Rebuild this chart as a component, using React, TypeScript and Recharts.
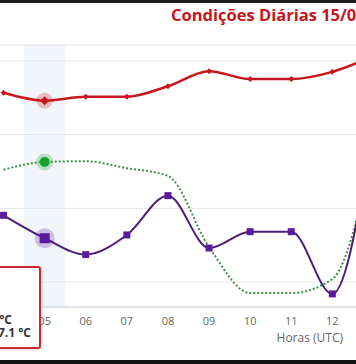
import React from 'react';
import { ComposedChart, Line, XAxis, YAxis, CartesianGrid, ReferenceArea } from 'recharts';

// Horas (UTC)
const hours = ['04', '05', '06', '07', '08', '09', '10', '11', '12', '13'];
// Temperatura (°C) - red
const temperatura = [12.7, 11.5, 12.1, 12.1, 13.7, 16.0, 14.8, 14.8, 15.9, 18.3];
// Humidade relativa (%) - green dotted
const humidade = [70.5, 72.6, 72.8, 70.9, 68.8, 49.5, 37.0, 37.0, 40.8, 76.0];
// Ponto de orvalho (°C) - purple
const orvalho = [7.8, 7.1, 6.6, 7.2, 8.4, 6.8, 7.3, 7.3, 5.4, 10.6];
const humidadeTicks = [40, 60, 80, 100];
const activeHour = '05';

const activeIndex = hours.indexOf(activeHour);
const data = hours.map((h, i) => ({
  hora: Number(h),
  temperatura: temperatura[i],
  humidade: humidade[i],
  orvalho: orvalho[i],
}));

const FONT = '"Open Sans", "DejaVu Sans", sans-serif';
const RED = '#c8161d';
const GREEN_LINE = '#3f8f47';
const GREEN = '#17a02b';
const PURPLE_LINE = '#4b1d7a';
const PURPLE = '#5a1a9c';

const diamond = (cx: number, cy: number, r: number) =>
  `M${cx},${cy - r} L${cx + r},${cy} L${cx},${cy + r} L${cx - r},${cy} Z`;

const redDot = (p: any) => {
  const { cx, cy, index } = p;
  if (cx == null || cy == null) return <g key={`r${index}`} />;
  if (index === activeIndex) {
    return (
      <g key={`r${index}`}>
        <circle cx={cx} cy={cy} r={8} fill={RED} fillOpacity={0.25} />
        <path d={diamond(cx, cy, 4.5)} fill={RED} />
      </g>
    );
  }
  return <path key={`r${index}`} d={diamond(cx, cy, 3)} fill={RED} />;
};

const greenDot = (p: any) => {
  const { cx, cy, index } = p;
  if (cx == null || cy == null || index !== activeIndex) return <g key={`g${index}`} />;
  return (
    <g key={`g${index}`}>
      <circle cx={cx} cy={cy} r={8.5} fill={GREEN} fillOpacity={0.25} />
      <circle cx={cx} cy={cy} r={5} fill={GREEN} />
    </g>
  );
};

const purpleDot = (p: any) => {
  const { cx, cy, index } = p;
  if (cx == null || cy == null) return <g key={`p${index}`} />;
  if (index === activeIndex) {
    return (
      <g key={`p${index}`}>
        <circle cx={cx} cy={cy} r={10} fill={PURPLE} fillOpacity={0.25} />
        <rect x={cx - 5} y={cy - 5} width={10} height={10} fill={PURPLE} />
      </g>
    );
  }
  return <rect key={`p${index}`} x={cx - 3.5} y={cy - 3.5} width={7} height={7} fill={PURPLE} />;
};

const d = data[activeIndex];

export default function App() {
  return (
    <div
      style={{
        position: 'fixed',
        left: 0,
        top: 0,
        width: 356,
        height: 364,
        overflow: 'hidden',
        background: '#ffffff',
        fontFamily: FONT,
      }}
    >
      <div style={{ position: 'absolute', left: -17, top: 0 }}>
        <ComposedChart
          width={411}
          height={364}
          data={data}
          margin={{ top: 45, right: 0, bottom: 27, left: 0 }}
        >
          <CartesianGrid vertical={false} stroke="#e6e6e6" yAxisId="h" />
          <XAxis
            dataKey="hora"
            type="number"
            domain={[3.5, 13.5]}
            allowDataOverflow
            ticks={hours.map(Number)}
            interval={0}
            tickFormatter={(v: number) => String(v).padStart(2, '0')}
            height={30}
            tickLine={false}
            tickMargin={4}
            axisLine={{ stroke: '#ccd6eb' }}
            tick={{ fill: '#666666', fontSize: 11, fontFamily: FONT }}
          />
          <YAxis yAxisId="t" hide domain={[-20, 20]} allowDataOverflow />
          <YAxis yAxisId="h" hide domain={[33.22, 104.34]} ticks={humidadeTicks} allowDataOverflow />
          <YAxis yAxisId="d" hide domain={[5, 13]} allowDataOverflow />
          <ReferenceArea
            yAxisId="h"
            x1={Number(activeHour) - 0.5}
            x2={Number(activeHour) + 0.5}
            fill="#ccd6eb"
            fillOpacity={0.25}
            stroke="none"
            ifOverflow="visible"
          />
          <Line
            yAxisId="t"
            type="monotone"
            dataKey="temperatura"
            stroke={RED}
            strokeWidth={2.5}
            dot={redDot}
            activeDot={false}
            isAnimationActive={false}
          />
          <Line
            yAxisId="h"
            type="monotone"
            dataKey="humidade"
            stroke={GREEN_LINE}
            strokeWidth={2}
            strokeDasharray="2 2"
            dot={greenDot}
            activeDot={false}
            isAnimationActive={false}
          />
          <Line
            yAxisId="d"
            type="monotone"
            dataKey="orvalho"
            stroke={PURPLE_LINE}
            strokeWidth={2}
            dot={purpleDot}
            activeDot={false}
            isAnimationActive={false}
          />
        </ComposedChart>
      </div>

      <div
        style={{
          position: 'absolute',
          left: 171,
          top: 4,
          fontSize: 16.5,
          fontWeight: 700,
          color: '#c4161c',
          whiteSpace: 'nowrap',
          lineHeight: '22px',
        }}
      >
        Condições Diárias 15/06/2024
      </div>

      <div
        style={{
          position: 'absolute',
          right: 13,
          top: 329,
          fontSize: 12,
          color: '#666666',
          whiteSpace: 'nowrap',
          lineHeight: '17px',
        }}
      >
        Horas (UTC)
      </div>

      <div
        style={{
          position: 'absolute',
          left: -150,
          top: 266,
          width: 191,
          height: 83,
          boxSizing: 'border-box',
          border: '2px solid #cc2a30',
          borderRadius: 3,
          background: 'rgba(255,255,255,0.97)',
          boxShadow: '1px 1px 3px rgba(0,0,0,0.15)',
          fontSize: 12,
          color: '#333333',
        }}
      >
        <div style={{ position: 'absolute', right: 60, top: 4, whiteSpace: 'nowrap', lineHeight: '16px', fontSize: 10 }}>
          {activeHour}:00 UTC
        </div>
        <div style={{ position: 'absolute', right: 46, top: 18, whiteSpace: 'nowrap', lineHeight: '16px' }}>
          <span style={{ color: GREEN }}>●</span> Humidade: <b>{d.humidade} %</b>
        </div>
        <div style={{ position: 'absolute', right: 27, top: 44, whiteSpace: 'nowrap', lineHeight: '16px' }}>
          <span style={{ color: RED }}>●</span> Temperatura: <b>{d.temperatura} °C</b>
        </div>
        <div style={{ position: 'absolute', right: 8, top: 57, whiteSpace: 'nowrap', lineHeight: '16px' }}>
          <span style={{ color: PURPLE }}>●</span> Ponto de orvalho: <b>{d.orvalho} °C</b>
        </div>
      </div>

      <div style={{ position: 'absolute', left: 0, top: 0, width: 356, height: 3, background: '#1c1c1c' }} />
      <div style={{ position: 'absolute', left: 0, top: 360, width: 356, height: 4, background: '#111111' }} />
    </div>
  );
}
